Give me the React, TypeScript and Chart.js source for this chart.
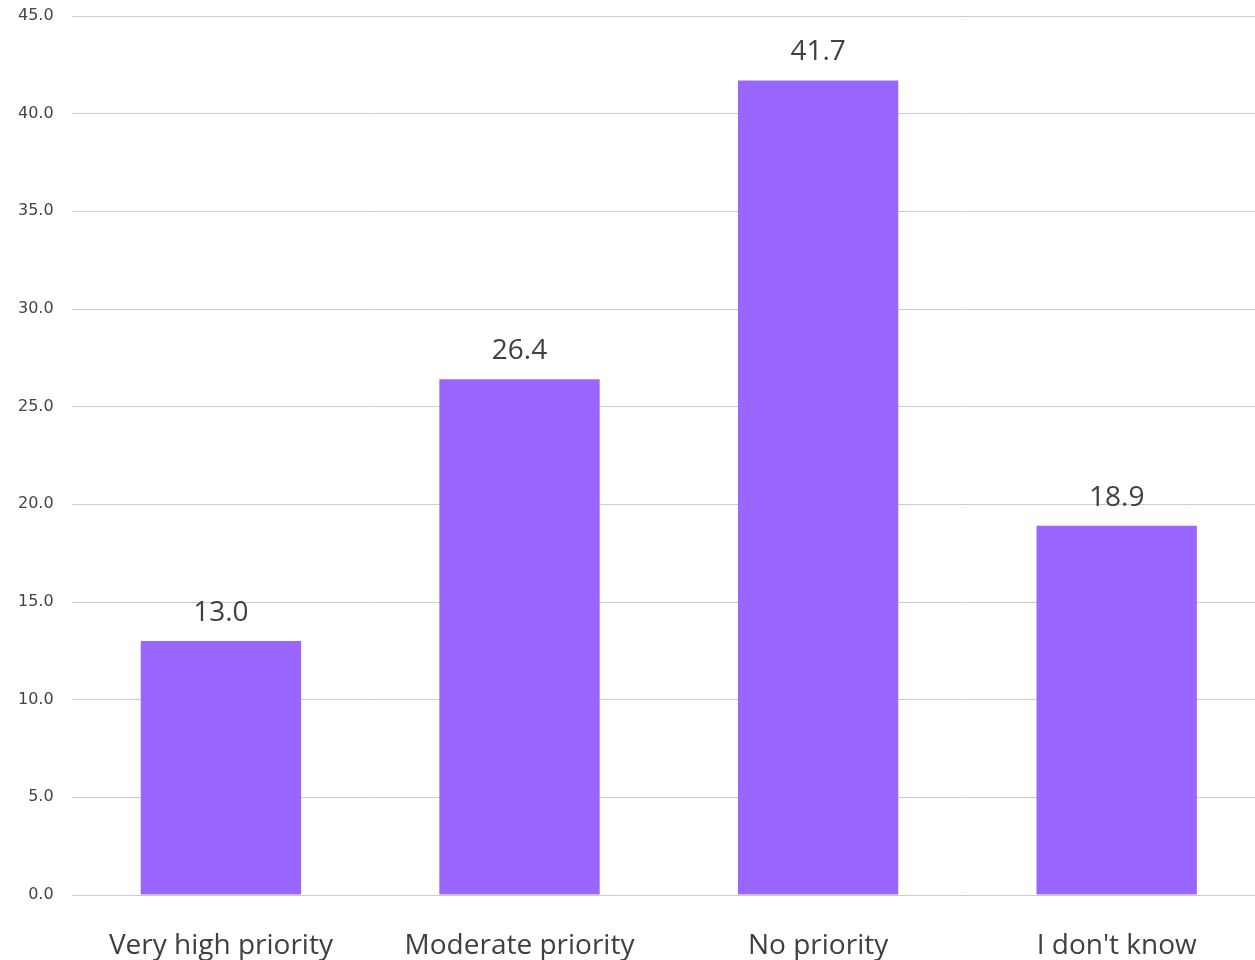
import React, { useEffect, useRef } from "react";
import { Chart, registerables } from "chart.js";

Chart.register(...registerables);

const categories = ["Very high priority", "Moderate priority", "No priority", "I don't know"];
const values = [13.0, 26.4, 41.7, 18.9];
const yMin = 0;
const yMax = 45;
const yStep = 5;

const barColor = "#9966FF";
const textColor = "#404040";

const dataLabelPlugin = {
  id: "dataLabels",
  afterDatasetsDraw(chart: any) {
    const ctx = chart.ctx;
    const meta = chart.getDatasetMeta(0);
    ctx.save();
    ctx.font = "28px 'Open Sans'";
    ctx.fillStyle = textColor;
    ctx.textAlign = "center";
    ctx.textBaseline = "alphabetic";
    meta.data.forEach((bar: any, i: number) => {
      const v = chart.data.datasets[0].data[i] as number;
      ctx.fillText(v.toFixed(1), bar.x, bar.y - 20);
    });
    ctx.restore();
  },
};

export default function App() {
  const ref = useRef<HTMLCanvasElement>(null);
  useEffect(() => {
    if (!ref.current) return;
    const chart = new Chart(ref.current, {
      type: "bar",
      data: {
        labels: categories,
        datasets: [
          {
            data: values,
            backgroundColor: barColor,
            categoryPercentage: 1,
            barPercentage: 0.537,
          },
        ],
      },
      options: {
        responsive: false,
        animation: false,
        devicePixelRatio: 1,
        layout: { padding: { top: 16, left: 12, right: 4, bottom: 0 } },
        plugins: { legend: { display: false }, tooltip: { enabled: false } },
        scales: {
          x: {
            grid: { display: true, color: "rgba(0,0,0,0)", drawOnChartArea: false, drawTicks: true, tickLength: 37 },
            border: { display: false },
            ticks: {
              color: textColor,
              font: { family: "'Open Sans'", size: 28, lineHeight: 1.0 },
              padding: 0,
              maxRotation: 0,
            },
          },
          y: {
            min: yMin,
            max: yMax,
            grid: { color: "#cccccc", drawTicks: true, tickLength: 12, tickColor: "rgba(0,0,0,0)", lineWidth: 1 },
            border: { display: false },
            ticks: {
              stepSize: yStep,
              color: "#444444",
              font: { family: "'DejaVu Sans'", size: 16 },
              padding: 6,
              callback: (v: any) => Number(v).toFixed(1),
            },
          },
        },
      },
      plugins: [dataLabelPlugin],
    });
    return () => chart.destroy();
  }, []);
  return (
    <div style={{ position: "absolute", left: 0, top: 0, width: 1255, height: 960, overflow: "hidden", background: "#fff" }}>
      <canvas ref={ref} width={1270} height={960} style={{ width: 1270, height: 960, display: "block" }} />
    </div>
  );
}
